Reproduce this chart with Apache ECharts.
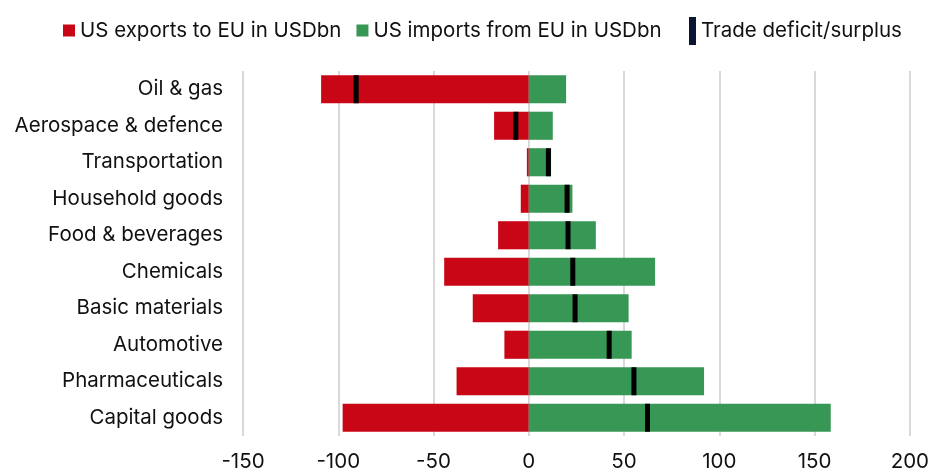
<!DOCTYPE html>
<html>
<head>
<meta charset="utf-8">
<script src="https://cdn.jsdelivr.net/npm/echarts@6/dist/echarts.min.js"></script>
<style>
  html, body { margin: 0; padding: 0; background: #fff; }
  #chart { width: 932px; height: 472px; }
</style>
</head>
<body>
<div id="chart"></div>
<script>
// Sectors, top to bottom
const sectors = [
  'Oil & gas', 'Aerospace & defence', 'Transportation', 'Household goods',
  'Food & beverages', 'Chemicals', 'Basic materials', 'Automotive',
  'Pharmaceuticals', 'Capital goods'
];
// US exports to EU (USD bn, shown as negative)
const exportsToEU = [-109, -18.2, -1, -4.2, -16.1, -44.4, -29.4, -12.8, -37.9, -97.7];
// US imports from EU (USD bn)
const importsFromEU = [19.6, 12.6, 11.7, 22.9, 35.2, 66.3, 52.4, 54, 92, 158.5];
// Trade deficit/surplus (USD bn)
const tradeBalance = [-90.6, -6.8, 10.3, 20.1, 20.6, 23.1, 24.3, 42.2, 55.2, 62.3];
// Value axis ticks
const xTicks = [-150, -100, -50, 0, 50, 100, 150, 200];

const RED = '#c90616';
const GREEN = '#379755';
const FONT = 'Inter';
const FONT_SIZE = 20.5;

const chart = echarts.init(document.getElementById('chart'), null, { renderer: 'canvas' });

chart.setOption({
  animation: false,
  backgroundColor: '#ffffff',
  textStyle: { fontFamily: FONT },
  legend: [
    {
      data: ['US exports to EU in USDbn', 'US imports from EU in USDbn'],
      left: 58,
      top: 15,
      icon: 'rect',
      itemWidth: 12,
      itemHeight: 12,
      itemGap: 15,
      textStyle: { fontFamily: FONT, fontSize: FONT_SIZE, color: '#111' }
    },
    {
      data: [{ name: 'Trade deficit/surplus', itemStyle: { color: '#0c1434', opacity: 1 } }],
      left: 684,
      top: 12,
      icon: 'rect',
      itemWidth: 7,
      itemHeight: 28,
      textStyle: { fontFamily: FONT, fontSize: FONT_SIZE, color: '#111' }
    }
  ],
  grid: { left: 243, right: 21, top: 71, bottom: 34 },
  xAxis: {
    type: 'value',
    min: xTicks[0],
    max: xTicks[xTicks.length - 1],
    interval: 50,
    axisLine: { show: false },
    axisTick: { show: false },
    axisLabel: { fontFamily: FONT, fontSize: FONT_SIZE, color: '#111', margin: 15 },
    splitLine: { lineStyle: { color: '#d9d9d9', width: 2 } }
  },
  yAxis: {
    type: 'category',
    data: sectors,
    inverse: true,
    axisLine: { show: false },
    axisTick: { show: false },
    axisLabel: { fontFamily: FONT, fontSize: FONT_SIZE, color: '#111', margin: 20 }
  },
  series: [
    {
      name: 'US exports to EU in USDbn',
      type: 'bar',
      data: exportsToEU,
      barWidth: '77%',
      barGap: '-100%',
      itemStyle: { color: RED },
      z: 2
    },
    {
      name: 'US imports from EU in USDbn',
      type: 'bar',
      data: importsFromEU,
      barWidth: '77%',
      itemStyle: { color: GREEN },
      z: 2
    },
    {
      name: 'Trade deficit/surplus',
      type: 'scatter',
      data: tradeBalance,
      symbol: 'rect',
      symbolSize: [5, 28],
      itemStyle: { color: '#000000', opacity: 1 },
      z: 5
    }
  ]
});
</script>
</body>
</html>
